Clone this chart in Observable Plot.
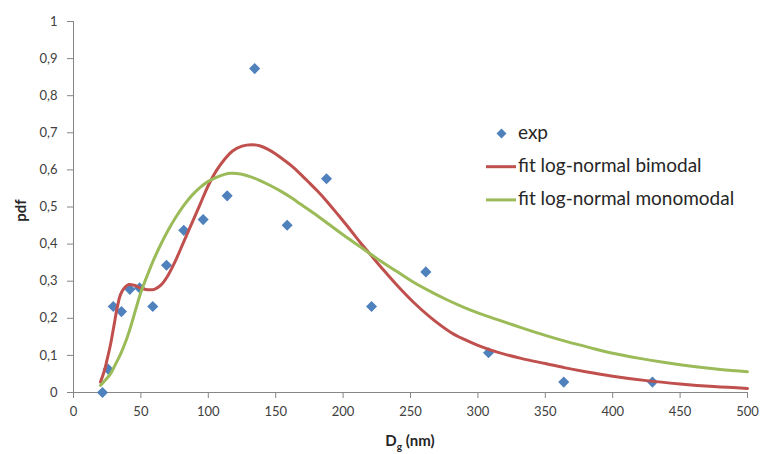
<!DOCTYPE html>
<html><head><meta charset="utf-8">
<script src="https://cdn.jsdelivr.net/npm/d3@7"></script>
<script src="https://cdn.jsdelivr.net/npm/@observablehq/plot@0.6"></script>
<style>
body{margin:0;background:#fff;}
#chart{position:relative;width:762px;height:454px;}
svg{overflow:visible;}
</style></head><body><div id="chart"></div>
<script>
// experimental points
const expX = [21.5, 25.7, 29.5, 35.6, 41.8, 49.0, 58.8, 69.0, 81.8, 96.2, 114.0, 134.4, 158.5, 187.7, 221.1, 261.4, 307.9, 363.7, 429.5];
const expY = [0, 0.063, 0.232, 0.218, 0.278, 0.282, 0.232, 0.343, 0.437, 0.466, 0.530, 0.873, 0.451, 0.576, 0.232, 0.325, 0.107, 0.028, 0.028];
// fit log-normal bimodal
const bimodalX = [20, 23, 25, 27.5, 30, 32.5, 35, 38, 41, 45, 50, 55, 60, 65, 70, 75, 82, 88, 94, 100, 106, 112, 118, 125, 132, 138, 144, 150, 156, 162, 168, 175, 181, 188, 196, 205, 213, 220, 230, 240, 252, 265, 280, 290, 300, 315, 332, 350, 364, 380, 400, 425, 450, 475, 500];
const bimodalY = [0.028, 0.06, 0.09, 0.13, 0.18, 0.23, 0.265, 0.283, 0.291, 0.289, 0.281, 0.277, 0.278, 0.29, 0.315, 0.35, 0.408, 0.458, 0.508, 0.558, 0.598, 0.628, 0.651, 0.664, 0.668, 0.665, 0.656, 0.643, 0.627, 0.61, 0.59, 0.565, 0.543, 0.515, 0.48, 0.44, 0.403, 0.373, 0.33, 0.289, 0.244, 0.202, 0.162, 0.143, 0.127, 0.108, 0.092, 0.078, 0.067, 0.056, 0.044, 0.032, 0.023, 0.016, 0.011];
// fit log-normal monomodal
const monoX = [20, 24, 27.4, 31, 35, 39, 42.3, 46, 50, 55, 60, 65, 70, 76, 82, 88, 94, 100, 106, 112, 117, 124, 131, 138, 146, 154, 162, 168, 178, 190, 200, 213, 220, 230, 240, 252, 265, 277, 290, 302, 314, 332, 350, 366, 383, 400, 420, 440, 460, 480, 500];
const monoY = [0.019, 0.035, 0.05, 0.075, 0.104, 0.14, 0.176, 0.222, 0.27, 0.318, 0.362, 0.401, 0.436, 0.473, 0.505, 0.532, 0.553, 0.569, 0.58, 0.588, 0.591, 0.589, 0.582, 0.572, 0.558, 0.542, 0.524, 0.509, 0.484, 0.452, 0.425, 0.392, 0.374, 0.349, 0.326, 0.298, 0.272, 0.25, 0.229, 0.212, 0.197, 0.175, 0.154, 0.137, 0.121, 0.106, 0.092, 0.08, 0.07, 0.062, 0.056];

const xTicks = [0, 50, 100, 150, 200, 250, 300, 350, 400, 450, 500];
const yTicks = [0, 0.1, 0.2, 0.3, 0.4, 0.5, 0.6, 0.7, 0.8, 0.9, 1];
const seriesNames = ["exp", "fit log-normal bimodal", "fit log-normal monomodal"];
const seriesColors = ["#4F81BD", "#C0504D", "#9BBB59"];
const xTitle = ["D", "g", " (nm)"];
const yTitle = "pdf";

const expData = expX.map((x, i) => ({x, y: expY[i]}));
const biData = bimodalX.map((x, i) => ({x, y: bimodalY[i]}));
const monoData = monoX.map((x, i) => ({x, y: monoY[i]}));

const fmt = d => d === 0 ? "0" : d === 1 ? "1" : d.toFixed(1).replace(".", ",");
const axisGray = "#868686";
const textCol = "#404040";

const chart = Plot.plot({
  width: 762, height: 454,
  marginLeft: 73, marginRight: 15, marginTop: 21, marginBottom: 62,
  style: {fontFamily: "Lato", fontSize: "13px", color: textCol, background: "#fff"},
  x: {domain: [0, 500]},
  y: {domain: [0, 1]},
  marks: [
    Plot.ruleX([0], {stroke: axisGray, strokeWidth: 1}),
    Plot.ruleY([0], {stroke: axisGray, strokeWidth: 1}),
    Plot.axisX(xTicks, {tickSize: 6, tickPadding: 8, stroke: axisGray, fill: textCol, label: null, tickFormat: d => String(d)}),
    Plot.axisY(yTicks, {tickSize: 6, tickPadding: 10, stroke: axisGray, fill: textCol, label: null, tickFormat: fmt}),
    Plot.dot(expData, {x: "x", y: "y", symbol: "diamond2", r: 5, fill: seriesColors[0], stroke: "none"}),
    Plot.line(biData, {x: "x", y: "y", stroke: seriesColors[1], strokeWidth: 3, curve: "catmull-rom"}),
    Plot.line(monoData, {x: "x", y: "y", stroke: seriesColors[2], strokeWidth: 3, curve: "catmull-rom"})
  ]
});
document.getElementById("chart").appendChild(chart);

const svg = d3.select(chart);
const xs = chart.scale("x"), ys = chart.scale("y");
const midX = (xs.range[0] + xs.range[1]) / 2;
const midY = (ys.range[0] + ys.range[1]) / 2;

// axis titles
const xt = svg.append("text").attr("x", midX).attr("y", 446).attr("text-anchor", "middle")
  .attr("font-family", "Lato").attr("font-weight", "bold").attr("font-size", 15).attr("fill", "#262626");
xt.append("tspan").text(xTitle[0]);
xt.append("tspan").attr("font-size", 10).attr("dy", 4).text(xTitle[1]);
xt.append("tspan").attr("dy", -4).text(xTitle[2]);
svg.append("text").attr("transform", `translate(26,${midY + 4}) rotate(-90)`).attr("text-anchor", "middle")
  .attr("font-family", "Lato").attr("font-weight", "bold").attr("font-size", 15).attr("fill", "#262626").text(yTitle);

// legend
const lg = svg.append("g").attr("font-family", "Lato").attr("font-size", 19).attr("fill", "#262626").attr("text-anchor", "start");
const lx = 486, ly0 = 133.5, lstep = 33.2;
lg.append("path").attr("d", d3.symbol(d3.symbolDiamond2, 64)()).attr("transform", `translate(${lx + 15.5},${ly0})`).attr("fill", seriesColors[0]);
[1, 2].forEach(i => {
  lg.append("line").attr("x1", lx).attr("x2", lx + 30).attr("y1", ly0 + i * lstep).attr("y2", ly0 + i * lstep)
    .attr("stroke", seriesColors[i]).attr("stroke-width", 3);
});
seriesNames.forEach((n, i) => {
  lg.append("text").attr("x", lx + 32).attr("y", ly0 + i * lstep + 5.5).attr("text-anchor", "start").text(n);
});
</script></body></html>
